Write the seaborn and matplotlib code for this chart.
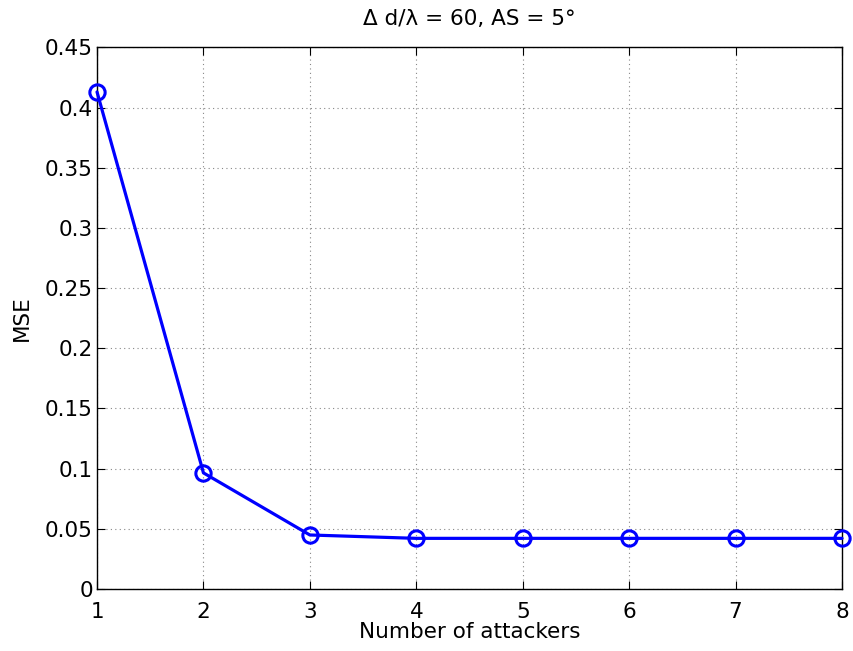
import matplotlib
matplotlib.use("Agg")
import matplotlib.pyplot as plt
import seaborn as sns
import pandas as pd
import numpy as np

attackers = [1, 2, 3, 4, 5, 6, 7, 8]
mse = [0.413, 0.0965, 0.0449, 0.0421, 0.0421, 0.0421, 0.0421, 0.0421]
yticks = [0, 0.05, 0.1, 0.15, 0.2, 0.25, 0.3, 0.35, 0.4, 0.45]
ytick_labels = ["0", "0.05", "0.1", "0.15", "0.2", "0.25", "0.3", "0.35", "0.4", "0.45"]

sns.set_style("ticks")
plt.rcParams['font.family'] = ['DejaVu Sans']
plt.rcParams['text.color'] = 'black'
plt.rcParams['axes.labelcolor'] = 'black'
plt.rcParams['xtick.color'] = 'black'
plt.rcParams['ytick.color'] = 'black'

FS = 15.5

df = pd.DataFrame({"attackers": attackers, "mse": mse})

fig = plt.figure(figsize=(8.54, 6.51), dpi=100)
ax = fig.add_axes([0.1136, 0.0952, 0.8724, 0.832])

sns.lineplot(data=df, x="attackers", y="mse", ax=ax, color="#0000ff",
             linewidth=2.3, marker="o", markersize=11, markerfacecolor="none",
             markeredgecolor="#0000ff", markeredgewidth=2.2, clip_on=False, zorder=5)

ax.set_xlim(1, 8)
ax.set_ylim(0, 0.45)
ax.set_xticks(attackers)
ax.set_yticks(yticks)
ax.set_yticklabels(ytick_labels)
ax.grid(True, linestyle=(0, (1, 3)), color="#888888", linewidth=0.8)
ax.tick_params(direction="in", top=True, right=True, labelsize=FS, length=6,
               width=0.8, color="black", labelcolor="black")
ax.tick_params(axis="x", pad=9)
ax.tick_params(axis="y", pad=3)
for s in ax.spines.values():
    s.set_linewidth(1.0)
    s.set_color("black")

ax.set_xlabel("Number of attackers", fontsize=FS, labelpad=0, color="black")
ax.set_ylabel("MSE", fontsize=FS, labelpad=9, color="black")
ax.set_title("Δ d/λ = 60, AS = 5°", fontsize=FS, pad=16, color="black")

fig.savefig("out.png", dpi=100)
